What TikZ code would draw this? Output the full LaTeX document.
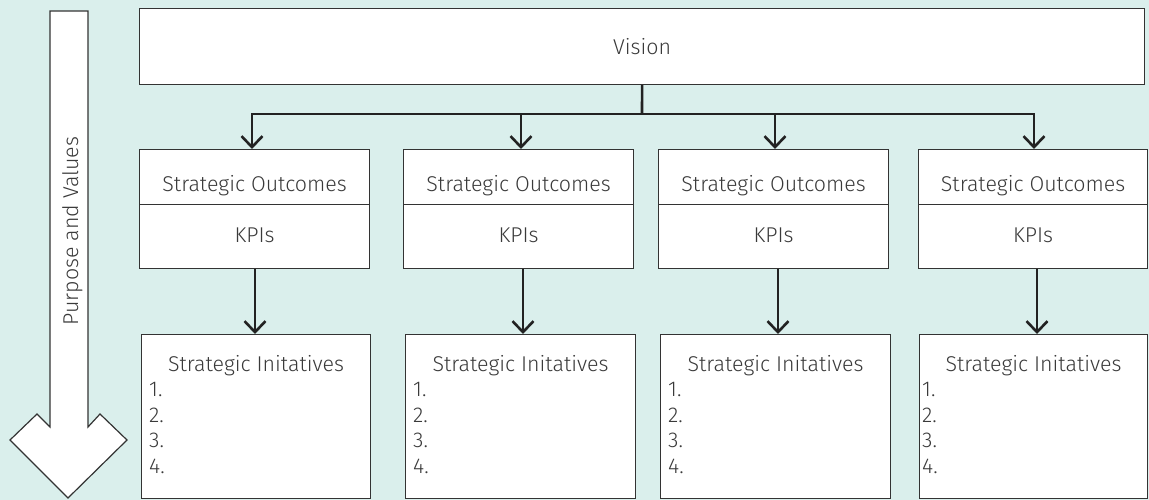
\documentclass[tikz,border=0pt]{standalone}
\usepackage{fontspec}
\setmainfont{Fira Sans}[UprightFont={* Light}]
\usetikzlibrary{arrows.meta}
\definecolor{bg}{HTML}{DAEFEC}
\definecolor{ln}{HTML}{333333}
\definecolor{tx}{HTML}{3A3A3A}
\definecolor{cn}{HTML}{222222}
\begin{document}
\begin{tikzpicture}[x=1pt,y=-1pt,
  box/.style={draw=ln, line width=1.2pt, fill=white, inner sep=0pt, anchor=north west},
  lbl/.style={text=tx, font=\fontsize{21.4}{25}\selectfont, inner sep=0pt},
  conn/.style={draw=cn, line width=2.6pt, line join=miter},
  arr/.style={conn, -{Straight Barb[length=11pt,width=21pt,line width=2.6pt]}}]
\fill[bg] (0,0) rectangle (1149,500);
\useasboundingbox (0,0) rectangle (1149,500);

% big arrow
\draw[ln, line width=1.2pt, fill=white] (50,11) -- (88,11) -- (88,427) -- (100,414) -- (127,440) -- (68,498) -- (10,440) -- (37,414) -- (50,427) -- cycle;
\node[lbl, rotate=90, anchor=base] (pv) at (78,231) {Purpose and Values};

% vision
\node[box, minimum width=1005pt, minimum height=76pt, lbl, text=tx] (vision) at (139,8) {Vision};

% columns
\foreach \i/\tl/\tw/\bl/\bw/\nx in {1/139/230/141/229/8, 2/403/230/405/230/8, 3/658/230/660/230/8, 4/918/229/919/228/3}{
  \node[box, minimum width=\tw pt, minimum height=55pt] (out\i) at (\tl,149) {};
  \node[box, minimum width=\tw pt, minimum height=64pt] (kpi\i) at (\tl,204) {};
  \node[lbl, anchor=base] (outt\i) at ([yshift=-43pt]out\i.north) {Strategic Outcomes};
  \node[lbl, anchor=base] (kpit\i) at ([yshift=-38pt]kpi\i.north) {KPIs};
  \node[box, minimum width=\bw pt, minimum height=164pt] (ini\i) at (\bl,334) {};
  \node[lbl, anchor=base] (init\i) at ([yshift=-37pt]ini\i.north) {Strategic Initatives};
  \foreach \n/\yy in {1/396, 2/422, 3/447, 4/473}{
    \node[lbl, anchor=base west] (num\i\n) at (\bl+\nx,\yy) {\n.};
  }
}

% connectors
\coordinate (hub) at (642,114);
\coordinate (h1) at (252,114);
\coordinate (h2) at (521,114);
\coordinate (h3) at (775,114);
\coordinate (h4) at (1034,114);
\draw[conn] (vision.south) -- (hub);
\draw[arr] (hub) -- (h1) -- (h1 |- out1.north);
\draw[arr] (hub) -- (h4) -- (h4 |- out4.north);
\draw[arr] (h2) -- (h2 |- out2.north);
\draw[arr] (h3) -- (h3 |- out3.north);

\coordinate (k1) at (255,0);
\coordinate (k2) at (523,0);
\coordinate (k3) at (778,0);
\coordinate (k4) at (1037,0);
\foreach \i in {1,2,3,4}{
  \draw[arr] (k\i |- kpi\i.south) -- (k\i |- ini\i.north);
}
\end{tikzpicture}
\end{document}
